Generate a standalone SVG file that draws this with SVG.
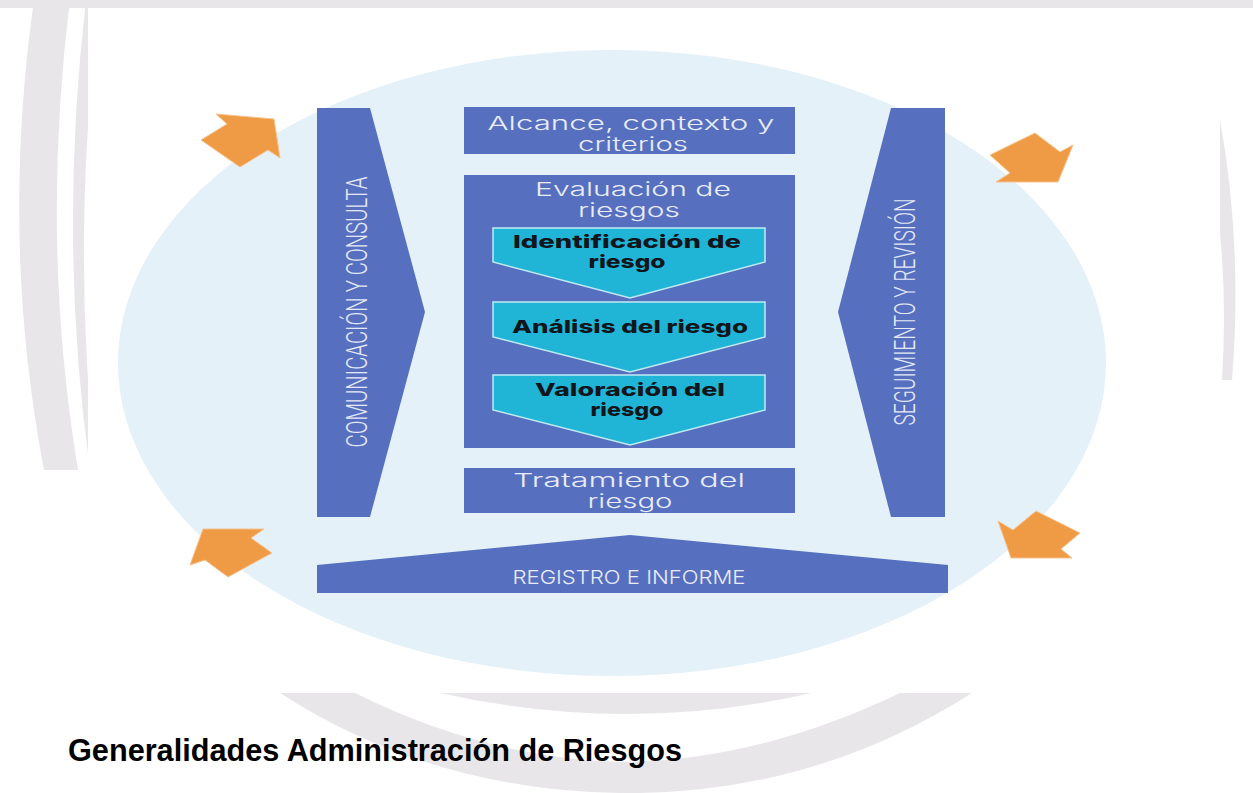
<svg xmlns="http://www.w3.org/2000/svg" width="1253" height="793" viewBox="0 0 1253 793">
<style>
.wm{fill:#e8e6e9}
.bar{fill:#5670bf}
.chev{fill:#20b5d6;stroke:#bfeaf3;stroke-width:1.5}
.arr{fill:#ef9a45;stroke:#f6c38f;stroke-width:1}
.lt{font-family:Inter,"Noto Sans","Liberation Sans",sans-serif;font-weight:300;fill:#e9ecf8;text-anchor:middle}
.vt{font-family:Roboto,"Liberation Sans",Arial,sans-serif;font-weight:300;fill:#e4e8f6;text-anchor:middle}
.bd{font-family:Inter,"Noto Sans","Liberation Sans",sans-serif;font-weight:800;fill:#10161c;text-anchor:middle}
.ti{font-family:"Liberation Sans",Arial,sans-serif;font-weight:bold;fill:#000}
</style>
<rect width="1253" height="793" fill="#ffffff"/>
<g id="watermark">
<rect class="wm" x="0" y="0" width="1253" height="8"/>
<path class="wm" d="M34 0 Q0 240 44 470 L78 470 Q40 240 70 0 Z"/>
<path class="wm" d="M86 0 Q58 240 90 470 L96 470 Q70 240 100 0 Z"/>
<path class="wm" d="M1165 0 Q1235 180 1222 380 L1232 380 Q1248 180 1190 0 Z"/>
<path class="wm" d="M280 693 Q430 790 620 793 L640 793 Q820 790 972 693 L900 693 Q760 760 626 762 Q490 760 355 693 Z"/>
<path class="wm" d="M440 693 Q626 735 812 693 Z"/>
</g>
<rect x="88" y="8" width="1132" height="685" fill="#ffffff"/>
<ellipse id="bg-ellipse" cx="612" cy="363" rx="494" ry="313" fill="#e4f1f9"/>
<g id="arrows">
<polygon class="arr" points="216,114 274,119 280,158 268,150 240,167 201,140 227,124"/>
<polygon class="arr" points="990,155 1035,133 1060,152 1073,145 1058,182 996,182 1010,173"/>
<polygon class="arr" points="203,529 264,529 251,538 272,553 228,577 205,560 190,565"/>
<polygon class="arr" points="998,521 1013,530 1036,511 1080,533 1061,549 1072,558 1011,558"/>
</g>
<g id="comunicacion">
<polygon class="bar" points="317,108 370,108 425,312 370,517 317,517"/>
<text class="vt" transform="translate(367,312) rotate(-90)" font-size="29" textLength="271" lengthAdjust="spacingAndGlyphs">COMUNICACIÓN Y CONSULTA</text>
</g>
<g id="seguimiento">
<polygon class="bar" points="891,108 945,108 945,517 891,517 838,312"/>
<text class="vt" transform="translate(915,312) rotate(-90)" font-size="29" textLength="227" lengthAdjust="spacingAndGlyphs">SEGUIMIENTO Y REVISIÓN</text>
</g>
<g id="alcance">
<rect class="bar" x="464" y="107" width="331" height="47"/>
<text class="lt" x="631" y="130" font-size="19" textLength="287" lengthAdjust="spacingAndGlyphs">Alcance, contexto y</text>
<text class="lt" x="633" y="151" font-size="19" textLength="110" lengthAdjust="spacingAndGlyphs">criterios</text>
</g>
<g id="evaluacion">
<rect class="bar" x="464" y="175" width="331" height="273"/>
<text class="lt" x="633" y="196" font-size="19" textLength="196" lengthAdjust="spacingAndGlyphs">Evaluación de</text>
<text class="lt" x="629" y="217" font-size="19" textLength="102" lengthAdjust="spacingAndGlyphs">riesgos</text>
</g>
<g id="identificacion">
<polygon class="chev" points="493,228 765,228 765,262 630,298 493,262"/>
<text class="bd" x="627" y="248" font-size="18" textLength="228" lengthAdjust="spacingAndGlyphs">Identificación de</text>
<text class="bd" x="627" y="268" font-size="18" textLength="77" lengthAdjust="spacingAndGlyphs">riesgo</text>
</g>
<g id="analisis">
<polygon class="chev" points="493,302 765,302 765,337 630,372 493,337"/>
<text class="bd" x="630" y="333" font-size="18" textLength="236" lengthAdjust="spacingAndGlyphs">Análisis del riesgo</text>
</g>
<g id="valoracion">
<polygon class="chev" points="493,375 765,375 765,410 630,445 493,410"/>
<text class="bd" x="630" y="396" font-size="18" textLength="190" lengthAdjust="spacingAndGlyphs">Valoración del</text>
<text class="bd" x="627" y="416" font-size="18" textLength="73" lengthAdjust="spacingAndGlyphs">riesgo</text>
</g>
<g id="tratamiento">
<rect class="bar" x="464" y="468" width="331" height="45"/>
<text class="lt" x="629" y="487" font-size="19" textLength="232" lengthAdjust="spacingAndGlyphs">Tratamiento del</text>
<text class="lt" x="630" y="508" font-size="19" textLength="85" lengthAdjust="spacingAndGlyphs">riesgo</text>
</g>
<g id="registro">
<polygon class="bar" points="317,565 630,535 948,565 948,593 317,593"/>
<text class="lt" x="629" y="584" font-size="19" textLength="233" lengthAdjust="spacingAndGlyphs">REGISTRO E INFORME</text>
</g>
<g id="connectors"></g>
<text class="ti" x="68" y="761" font-size="31" textLength="614" lengthAdjust="spacingAndGlyphs">Generalidades Administración de Riesgos</text>
</svg>
